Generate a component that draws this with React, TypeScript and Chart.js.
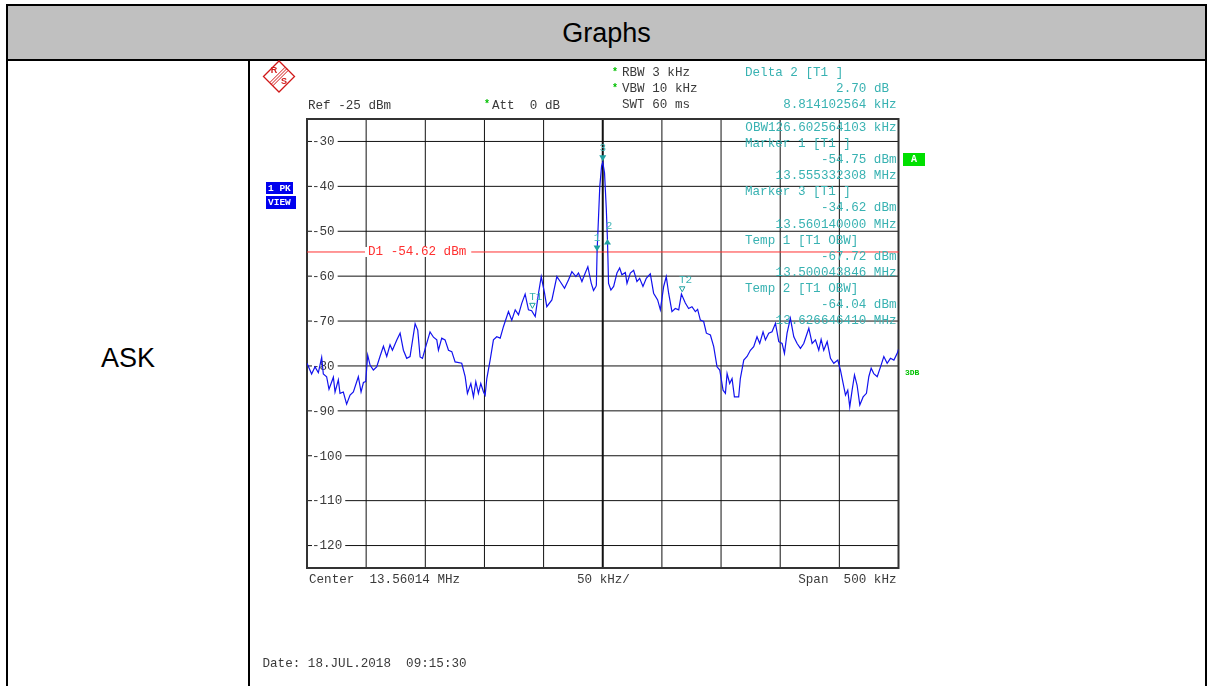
import React, { useEffect, useRef } from 'react';
import { Chart, registerables } from 'chart.js';

Chart.register(...registerables);

// ---- Data (frequency offset from centre in kHz, level in dBm) ----
const FREQ_OFFSET_KHZ = [
  -250, -246.1, -243.2, -240.4, -237.6, -236.2, -233.4, -231.4, -227.7, -226.3,
  -223.5, -222.1, -219.3, -216.5, -213.6, -210.8, -206.6, -204.3, -202.3, -200.4,
  -198.7, -196.7, -193.9, -191.1, -188.3, -185.4, -182.6, -179.8, -177.8, -174.1,
  -171.3, -168.5, -165.7, -162.9, -158.6, -156.4, -154.4, -152.4, -149.6, -146.0,
  -143.1, -140.3, -138.9, -136.1, -133.3, -130.4, -127.6, -124.8, -119.2, -116.3,
  -114.4, -111.5, -109.3, -107.3, -105.1, -103.1, -100.8, -99.4, -98.0, -95.2,
  -92.4, -89.6, -86.7, -83.9, -79.7, -76.9, -74.0, -71.2, -68.4, -65.6,
  -62.8, -60.1, -57.1, -54.3, -52.0, -49.2, -47.3, -43.0, -38.8, -36.0,
  -32.3, -28.9, -26.1, -22.7, -20.5, -17.6, -14.8, -12.6, -9.7, -7.8,
  -5.8, -5.4, -4.8, -2.5, -1.0, 0, 1.5, 3.0, 4.0, 4.9,
  6.9, 9.2, 12.0, 14.3, 16.2, 19.1, 20.5, 23.3, 26.1, 28.9,
  31.2, 34.0, 36.8, 40.2, 43.0, 46.4, 48.7, 51.5, 53.7, 55.7,
  58.5, 61.3, 64.2, 66.5, 69.8, 72.6, 75.4, 78.3, 80.2, 82.5,
  85.3, 87.6, 91.0, 93.8, 96.6, 98.9, 101.7, 103.7, 105.1, 107.3,
  109.3, 111.3, 114.9, 116.3, 119.2, 122.0, 124.8, 127.6, 130.4, 132.7,
  135.5, 137.5, 140.3, 143.1, 146.0, 148.8, 151.6, 153.6, 155.8, 158.6,
  161.5, 164.3, 167.1, 169.9, 174.2, 177.0, 179.8, 182.6, 184.6, 186.8,
  189.7, 192.5, 195.3, 198.7, 200.9, 203.2, 205.2, 207.1, 208.8, 210.8,
  212.8, 215.0, 217.3, 220.1, 222.9, 224.9, 226.9, 229.1, 232.0, 234.8,
  237.6, 240.4, 243.2, 246.1, 248.9, 250,
];
const LEVEL_DBM = [
  -79.4, -81.8, -80.2, -81.5, -78.1, -81.8, -82.4, -85.2, -82.5, -85.8,
  -83.1, -86.1, -85.8, -88.5, -86.5, -85.8, -82.4, -85.8, -83.7, -83.5,
  -77.6, -79.8, -80.9, -80.2, -77.9, -75.6, -77.9, -75.3, -76.5, -74.2,
  -72.7, -76.5, -78.3, -77.9, -70.6, -72.0, -78.0, -78.3, -75.7, -72.4,
  -73.6, -74.2, -76.5, -73.8, -74.2, -76.5, -76.8, -79.1, -79.4, -82.4,
  -86.1, -83.9, -86.9, -83.5, -86.1, -83.9, -85.8, -86.5, -82.8, -78.7,
  -74.2, -73.5, -73.8, -71.2, -67.9, -69.8, -67.5, -68.6, -66.0, -64.0,
  -67.5, -67.7, -69.0, -63.8, -60.1, -63.8, -66.8, -65.3, -60.1, -61.2,
  -62.7, -60.8, -59.0, -60.1, -59.3, -61.2, -59.3, -57.9, -61.6, -63.2,
  -62.3, -62.0, -54.75, -40.0, -35.5, -34.62, -37.0, -45.0, -52.05, -61.6,
  -63.1, -62.3, -59.3, -58.2, -59.7, -59.2, -61.6, -59.3, -58.7, -61.2,
  -60.5, -62.3, -60.5, -59.5, -63.8, -65.3, -67.5, -62.3, -60.1, -63.8,
  -67.9, -67.2, -67.5, -64.0, -66.0, -67.2, -66.8, -67.9, -67.4, -69.8,
  -70.1, -72.7, -73.1, -75.7, -80.2, -80.9, -85.4, -86.1, -81.7, -83.9,
  -82.8, -86.9, -86.9, -82.8, -78.7, -77.9, -76.5, -75.7, -73.5, -75.0,
  -72.4, -74.2, -72.7, -72.4, -70.5, -74.6, -75.0, -77.2, -72.7, -69.4,
  -73.5, -75.0, -76.1, -75.0, -71.6, -75.0, -74.2, -76.5, -74.1, -76.5,
  -74.6, -78.3, -79.4, -78.7, -80.9, -83.9, -86.5, -85.4, -89.1, -85.4,
  -82.0, -84.3, -88.7, -86.9, -86.1, -82.4, -80.5, -81.7, -82.4, -80.2,
  -77.9, -79.4, -78.3, -78.7, -77.2, -76.3,
];

const X_GRID_KHZ = [-200, -150, -100, -50, 0, 50, 100, 150, 200];
const Y_TICK_DBM = [-30, -40, -50, -60, -70, -80, -90, -100, -110, -120];
const Y_TICK_LABELS = ['-30', '-40', '-50', '-60', '-70', '-80', '-90', '-100', '-110', '-120'];
const D1_LEVEL_DBM = -54.62;
const D1_LABEL = 'D1 -54.62 dBm';

const MARKER_NAMES = ['1', '2', '3', 'T1', 'T2'];
const MARKER_FREQ_KHZ = [-4.808, 4.006, 0, -60.096, 66.506];
const MARKER_LEVEL_DBM = [-54.75, -52.05, -34.62, -67.72, -64.04];
const MARKER_KIND = ['down', 'up', 'down', 'open', 'open'];

const READOUT_LINES = [
  'OBW126.602564103 kHz',
  'Marker 1 [T1 ]',
  '-54.75 dBm',
  '13.555332308 MHz',
  'Marker 3 [T1 ]',
  '-34.62 dBm',
  '13.560140000 MHz',
  'Temp 1 [T1 OBW]',
  '-67.72 dBm',
  '13.500043846 MHz',
  'Temp 2 [T1 OBW]',
  '-64.04 dBm',
  '13.626646410 MHz',
];
const READOUT_LEFT = [false, true, false, false, true, false, false, true, false, false, true, false, false];

const MONO = '"Liberation Mono", "DejaVu Sans Mono", monospace';
const FS = 12.6;
const GRAY = '#3a3a3a';
const TEAL = '#38b2b2';
const RED = '#ff3030';

function txt(ctx: CanvasRenderingContext2D, s: string, x: number, y: number, color: string, align: CanvasTextAlign = 'left', font = `${FS}px ${MONO}`) {
  ctx.font = font;
  ctx.fillStyle = color;
  ctx.textAlign = align;
  ctx.textBaseline = 'middle';
  ctx.fillText(s, x, y);
}

function star(ctx: CanvasRenderingContext2D, x: number, y: number) {
  txt(ctx, '*', x, y, '#00c000', 'center', `bold 10px ${MONO}`);
}

function drawLogo(ctx: CanvasRenderingContext2D) {
  const cx = 279, cy = 76.5, r = 15.5;
  ctx.save();
  ctx.strokeStyle = '#d01818';
  ctx.lineWidth = 1.3;
  ctx.beginPath();
  ctx.moveTo(cx - r, cy);
  ctx.lineTo(cx, cy - r);
  ctx.lineTo(cx + r, cy);
  ctx.lineTo(cx, cy + r);
  ctx.closePath();
  ctx.stroke();
  // diagonal stripes
  ctx.lineWidth = 1;
  for (const o of [-2.2, 0, 2.2]) {
    const ox = o * 0.7071, oy = o * 0.7071;
    ctx.beginPath();
    ctx.moveTo(cx - r / 2 + ox, cy + r / 2 + oy);
    ctx.lineTo(cx + r / 2 + ox, cy - r / 2 + oy);
    ctx.stroke();
  }
  txt(ctx, 'R', cx - 5, cy - 6, '#d01818', 'center', 'bold 9px "Liberation Sans", Arial, sans-serif');
  txt(ctx, 'S', cx + 5, cy + 5, '#d01818', 'center', 'bold 9px "Liberation Sans", Arial, sans-serif');
  ctx.restore();
}

const analyzerPlugin = {
  id: 'analyzer',
  beforeDatasetsDraw(chart: any) {
    const { ctx, chartArea: a, scales } = chart;
    const xs = scales.x, ys = scales.y;
    ctx.save();

    // vertical grid
    ctx.strokeStyle = '#111';
    for (const v of X_GRID_KHZ) {
      const px = xs.getPixelForValue(v);
      ctx.lineWidth = v === 0 ? 2 : 1;
      ctx.beginPath();
      ctx.moveTo(px, a.top);
      ctx.lineTo(px, a.bottom);
      ctx.stroke();
    }
    // horizontal grid + labels
    ctx.font = `${FS}px ${MONO}`;
    Y_TICK_DBM.forEach((v, i) => {
      const py = ys.getPixelForValue(v);
      ctx.strokeStyle = '#111';
      ctx.lineWidth = 1;
      ctx.beginPath();
      ctx.moveTo(a.left, py);
      ctx.lineTo(a.right, py);
      ctx.stroke();
      ctx.font = `${FS}px ${MONO}`;
      const w = ctx.measureText(Y_TICK_LABELS[i]).width;
      ctx.fillStyle = '#fff';
      ctx.fillRect(a.left + 5, py - 5, w + 3, 10);
      txt(ctx, Y_TICK_LABELS[i], a.left + 5, py + 0.5, GRAY);
    });

    // frame
    ctx.strokeStyle = '#333';
    ctx.lineWidth = 2;
    ctx.strokeRect(a.left, a.top, a.right - a.left, a.bottom - a.top);

    // D1 line
    const dy = ys.getPixelForValue(D1_LEVEL_DBM);
    ctx.strokeStyle = RED;
    ctx.lineWidth = 1;
    ctx.beginPath();
    ctx.moveTo(a.left, dy);
    ctx.lineTo(a.right, dy);
    ctx.stroke();
    ctx.font = `${FS}px ${MONO}`;
    const dw = ctx.measureText(D1_LABEL).width;
    ctx.fillStyle = '#fff';
    ctx.fillRect(a.left + 58, dy - 5, dw + 8, 10);
    txt(ctx, D1_LABEL, a.left + 61, dy - 0.5, RED);

    // readouts
    READOUT_LINES.forEach((s, i) => {
      const y = 127.7 + i * 16.08;
      if (READOUT_LEFT[i]) txt(ctx, s, 745, y, TEAL);
      else txt(ctx, s, 896.5, y, TEAL, 'right');
    });

    ctx.restore();
  },
  afterDatasetsDraw(chart: any) {
    const { ctx, scales } = chart;
    const xs = scales.x, ys = scales.y;
    ctx.save();
    MARKER_NAMES.forEach((name, i) => {
      const px = xs.getPixelForValue(MARKER_FREQ_KHZ[i]);
      const py = ys.getPixelForValue(MARKER_LEVEL_DBM[i]);
      const kind = MARKER_KIND[i];
      ctx.fillStyle = '#1ea0a0';
      ctx.strokeStyle = '#1ea0a0';
      ctx.lineWidth = 1;
      if (kind === 'down') {
        ctx.beginPath();
        ctx.moveTo(px - 3.5, py - 7);
        ctx.lineTo(px + 3.5, py - 7);
        ctx.lineTo(px, py - 1);
        ctx.closePath();
        ctx.fill();
        txt(ctx, name, px, py - 14, TEAL, 'center', `11px ${MONO}`);
      } else if (kind === 'up') {
        ctx.beginPath();
        ctx.moveTo(px - 3.5, py + 4);
        ctx.lineTo(px + 3.5, py + 4);
        ctx.lineTo(px, py - 1.5);
        ctx.closePath();
        ctx.fill();
        txt(ctx, name, px + 1.5, py - 14, TEAL, 'center', `11px ${MONO}`);
      } else {
        ctx.beginPath();
        ctx.moveTo(px - 2, py - 7.5);
        ctx.lineTo(px + 3.5, py - 7.5);
        ctx.lineTo(px + 0.75, py - 2.5);
        ctx.closePath();
        ctx.stroke();
        txt(ctx, name, px - 2.5, py - 14, TEAL, 'left', `11px ${MONO}`);
      }
    });

    // settings text
    txt(ctx, 'Ref -25 dBm', 308, 106, GRAY);
    star(ctx, 487, 104);
    txt(ctx, 'Att  0 dB', 492, 106, GRAY);
    star(ctx, 615, 72);
    txt(ctx, 'RBW 3 kHz', 622, 73, GRAY);
    star(ctx, 615, 88);
    txt(ctx, 'VBW 10 kHz', 622, 89, GRAY);
    txt(ctx, 'SWT 60 ms', 622, 105, GRAY);
    txt(ctx, 'Delta 2 [T1 ]', 745, 73, TEAL);
    txt(ctx, '2.70 dB', 889, 89, TEAL, 'right');
    txt(ctx, '8.814102564 kHz', 896.5, 105, TEAL, 'right');

    txt(ctx, 'Center  13.56014 MHz', 309, 580, GRAY);
    txt(ctx, '50 kHz/', 577, 580, GRAY);
    txt(ctx, 'Span  500 kHz', 896.5, 580, GRAY, 'right');
    txt(ctx, 'Date: 18.JUL.2018  09:15:30', 262.5, 664, GRAY);

    // side badges
    ctx.fillStyle = '#0000ee';
    ctx.fillRect(266, 182, 27, 12);
    ctx.fillRect(266, 196, 30, 13);
    txt(ctx, '1 PK', 268, 188.5, '#fff', 'left', `bold 9.5px ${MONO}`);
    txt(ctx, 'VIEW', 268, 202.5, '#fff', 'left', `bold 9.5px ${MONO}`);
    ctx.fillStyle = '#00e000';
    ctx.fillRect(903, 153, 22, 13);
    txt(ctx, 'A', 914, 159.5, '#fff', 'center', `bold 10px ${MONO}`);
    txt(ctx, '3DB', 905, 373, '#00c000', 'left', `bold 8px ${MONO}`);

    drawLogo(ctx);
    ctx.restore();
  },
};

export default function App() {
  const ref = useRef<HTMLCanvasElement | null>(null);

  useEffect(() => {
    if (!ref.current) return;
    const points = FREQ_OFFSET_KHZ.map((f, i) => ({ x: f, y: LEVEL_DBM[i] }));
    const chart = new Chart(ref.current, {
      type: 'line',
      data: {
        datasets: [
          {
            data: points,
            borderColor: '#1212ee',
            borderWidth: 1.2,
            pointRadius: 0,
            tension: 0,
            fill: false,
          },
        ],
      },
      options: {
        responsive: false,
        animation: false,
        devicePixelRatio: 1,
        events: [],
        layout: { padding: { left: 307, top: 119, right: 309.5, bottom: 118 } },
        scales: {
          x: { type: 'linear', min: -250, max: 250, display: false },
          y: { type: 'linear', min: -125, max: -25, display: false },
        },
        plugins: { legend: { display: false }, tooltip: { enabled: false } },
      },
      plugins: [analyzerPlugin],
    } as any);
    return () => chart.destroy();
  }, []);

  const sans = 'Arial, "Liberation Sans", sans-serif';
  return (
    <div style={{ position: 'fixed', left: 0, top: 0, width: 1208, height: 686, background: '#fff', overflow: 'hidden' }}>
      <div
        style={{
          position: 'absolute', left: 6, top: 4, width: 1201, height: 57, boxSizing: 'border-box',
          border: '2px solid #000', background: '#c0c0c0', display: 'flex', alignItems: 'center',
          justifyContent: 'center', font: `27px ${sans}`, color: '#000', paddingTop: 2,
        }}
      >
        Graphs
      </div>
      <div style={{ position: 'absolute', left: 6, top: 59, width: 2, height: 640, background: '#000' }} />
      <div style={{ position: 'absolute', left: 248, top: 59, width: 2, height: 640, background: '#000' }} />
      <div style={{ position: 'absolute', left: 1205, top: 59, width: 2, height: 640, background: '#000' }} />
      <div
        style={{
          position: 'absolute', left: 8, top: 330, width: 240, height: 56, display: 'flex',
          alignItems: 'center', justifyContent: 'center', font: `27px ${sans}`, color: '#000',
        }}
      >
        ASK
      </div>
      <canvas ref={ref} width={1208} height={686} style={{ position: 'absolute', left: 0, top: 0, width: 1208, height: 686 }} />
    </div>
  );
}
